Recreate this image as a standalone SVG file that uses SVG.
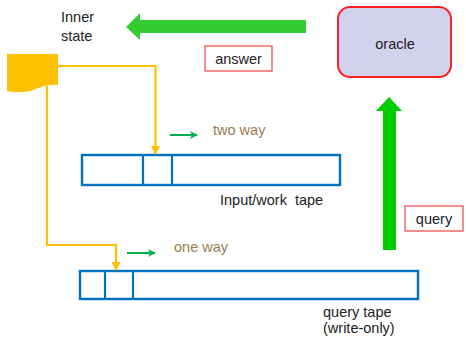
<svg xmlns="http://www.w3.org/2000/svg" width="466" height="337" viewBox="0 0 466 337">
  <style>
    text { font-family: "Liberation Sans", Arial, sans-serif; font-size: 14.5px; fill: #222; white-space: pre; }
    .brown { fill: #9c7b52; }
    .tape { fill: #fff; stroke: #0070c0; stroke-width: 2.4; }
    .cell { stroke: #0070c0; stroke-width: 2.2; fill: none; }
    .label { fill: #fff; stroke: #ee4444; stroke-width: 1.2; }
    .yl { fill: none; stroke: #ffc000; stroke-width: 2.2; }
    .gs { fill: none; stroke: #00b050; stroke-width: 2; }
  </style>
  <defs>
    <marker id="ya" viewBox="0 0 10 10" refX="9" refY="5" markerWidth="4" markerHeight="4" orient="auto">
      <path d="M0,0 L10,5 L0,10 Z" fill="#ffc000"/>
    </marker>
    <marker id="ga" viewBox="0 0 10 10" refX="9" refY="5" markerWidth="4" markerHeight="4" orient="auto">
      <path d="M0,0 L10,5 L0,10 L3,5 Z" fill="#00b050"/>
    </marker>
  </defs>

  <g id="inner-state">
    <text x="61" y="22">Inner</text>
    <text x="61" y="41">state</text>
    <path d="M7,54 H58 V85 C46,84 40,88 30,91 C20,93 12,92 7,91 Z" fill="#ffc000"/>
  </g>

  <g id="oracle">
    <rect x="338" y="7" width="113" height="70" rx="12" fill="#d2d2ee" stroke="#ff2020" stroke-width="2"/>
    <text x="395" y="49" text-anchor="middle">oracle</text>
  </g>

  <g id="answer-label">
    <rect class="label" x="205" y="46" width="67" height="25"/>
    <text x="238.5" y="64" text-anchor="middle">answer</text>
  </g>

  <g id="query-label">
    <rect class="label" x="405" y="206" width="58" height="25"/>
    <text x="434" y="224" text-anchor="middle">query</text>
  </g>

  <g id="work-tape">
    <rect class="tape" x="82" y="155" width="258" height="30"/>
    <line class="cell" x1="143" y1="155" x2="143" y2="185"/>
    <line class="cell" x1="172" y1="155" x2="172" y2="185"/>
    <text x="220" y="205" xml:space="preserve">Input/work  tape</text>
  </g>

  <g id="query-tape">
    <rect class="tape" x="80" y="271" width="338" height="28"/>
    <line class="cell" x1="105" y1="271" x2="105" y2="299"/>
    <line class="cell" x1="133" y1="271" x2="133" y2="299"/>
    <text x="323" y="317">query tape</text>
    <text x="323" y="333">(write-only)</text>
  </g>

  <g id="head-labels">
    <text class="brown" x="213" y="135">two way</text>
    <text class="brown" x="174" y="252">one way</text>
  </g>

  <g id="connectors">
    <!-- answer flows back from the oracle -->
    <path d="M306,20 H140 V13 L126,27 L140,40 V33 H306 Z" fill="#33cc33"/>
    <!-- query goes up to the oracle -->
    <path d="M383,250 V111 H376 L389,97 L402,111 H396 V250 Z" fill="#00cc00"/>
    <!-- heads from the inner state -->
    <path class="yl" d="M58,66 H155.5 V154" marker-end="url(#ya)"/>
    <path class="yl" d="M47,86 V245 H116 V270" marker-end="url(#ya)"/>
    <!-- head movement directions -->
    <line class="gs" x1="170" y1="135" x2="197" y2="135" marker-end="url(#ga)"/>
    <line class="gs" x1="127" y1="253" x2="155" y2="253" marker-end="url(#ga)"/>
  </g>
</svg>
